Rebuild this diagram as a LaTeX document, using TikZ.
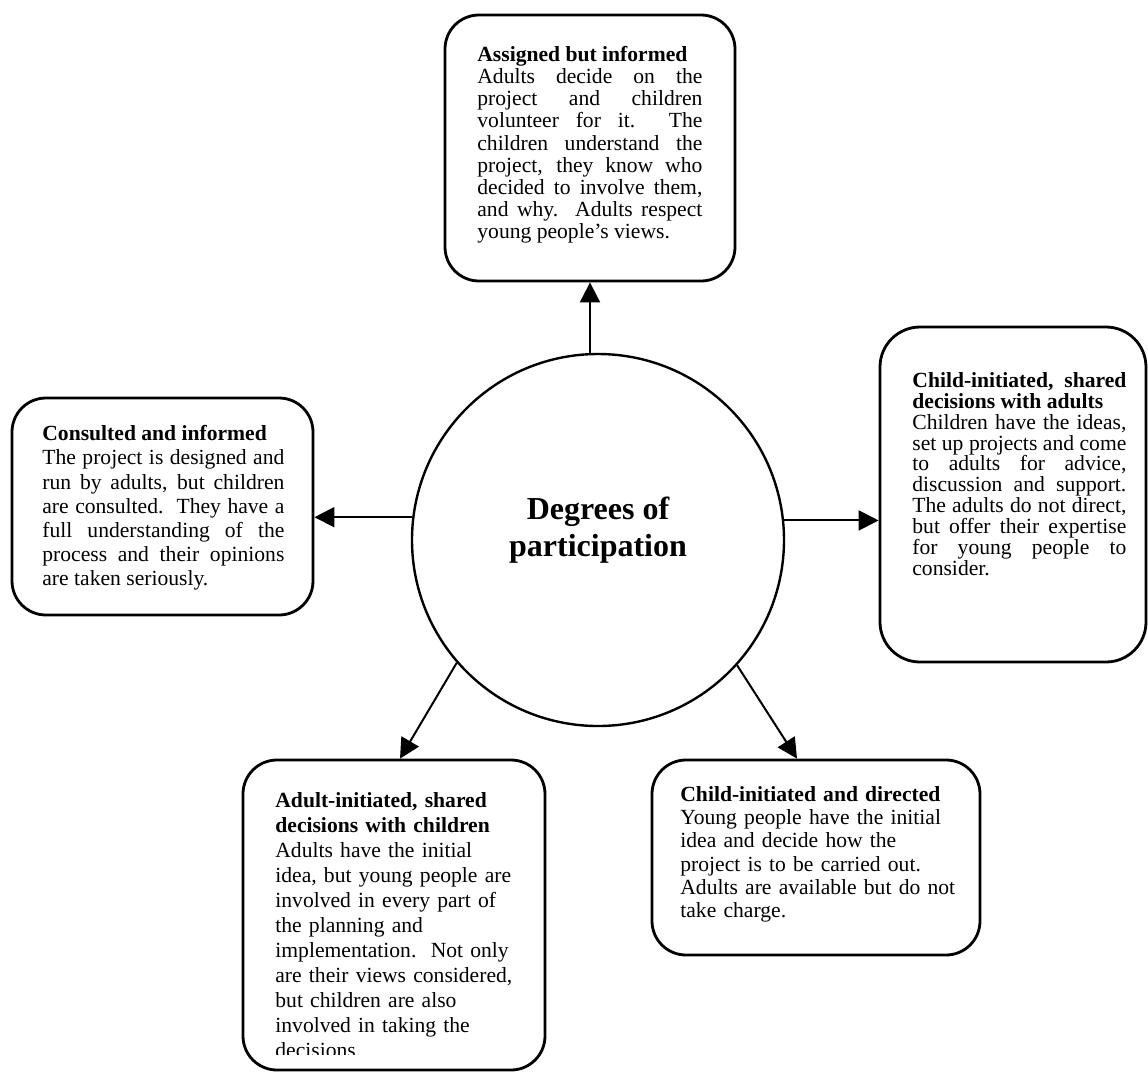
\documentclass[tikz,border=0pt]{standalone}
\usepackage{fontspec}
\setmainfont{Liberation Serif}
\usetikzlibrary{arrows.meta}
% paragraph settings for the box texts
\newcommand\boxpar{\hyphenpenalty=10000 \tolerance=9999 \parindent=0pt\relax}
\begin{document}
\begin{tikzpicture}[x=0.5pt,y=-0.5pt,
  box/.style={draw, line width=1.4pt, rounded corners=17pt, inner sep=0pt},
  hub/.style={draw, circle, line width=1.2pt, minimum size=186pt, inner sep=0pt},
  body/.style={anchor=north west, inner sep=0pt, font=\fontsize{10.8}{#1}\selectfont},
  title/.style={inner sep=0pt, align=center, font=\fontsize{16}{18.3}\selectfont\bfseries},
  arr/.style={line width=1pt, -{Triangle[length=10pt,width=10pt]}},
]
\useasboundingbox (0,0) rectangle (1148,1073);

% central hub
\node[hub] (c) at (598,540) {};
\node[title] (ttl) at (598,530) {Degrees of\\participation};

% surrounding boxes
\node[box, minimum width=145pt, minimum height=133pt] (top) at (590,148) {};
\node[box, minimum width=150.5pt, minimum height=108.5pt] (lft) at (162.5,506.5) {};
\node[box, rounded corners=20pt, minimum width=133pt, minimum height=167.5pt] (rgt) at (1013,494.5) {};
\node[box, minimum width=151pt, minimum height=155pt] (bl) at (394,915) {};
\node[box, minimum width=164pt, minimum height=97.5pt] (br) at (816,857.5) {};

% box texts
\node[body=11.05, text width=112.5pt, align=justify] (toptxt) at (477,46) {\boxpar
\textbf{Assigned but informed}\par
Adults decide on the\linebreak
project and children\linebreak
volunteer for it.\ \ The\linebreak
children understand the\linebreak
project, they know who\linebreak
decided to involve them,\linebreak
and why.\ \ Adults respect\linebreak
young people’s views.};

\node[body=12.1, text width=121pt, align=justify] (lfttxt) at (42,425) {\boxpar
\textbf{Consulted and informed}\par
The project is designed and\linebreak
run by adults, but children\linebreak
are consulted.\ \ They have a\linebreak
full understanding of the\linebreak
process and their opinions\linebreak
are taken seriously.};

\node[body=10.45, text width=107pt, align=justify] (rgttxt) at (912,372) {\boxpar
\textbf{Child-initiated, shared\linebreak
decisions with adults}\par
Children have the ideas,\linebreak
set up projects and come\linebreak
to adults for advice,\linebreak
discussion and support.\linebreak
The adults do not direct,\linebreak
but offer their expertise\linebreak
for young people to\linebreak
consider.};

\begin{scope}
  \clip (bl.north west) rectangle ([yshift=8.5pt]bl.south east);
  \node[body=12.5, text width=125pt, align=left] (bltxt) at (275,792) {\boxpar
  \textbf{Adult-initiated, shared}\newline
  \textbf{decisions with children}\newline
  Adults have the initial\newline
  idea, but young people are\newline
  involved in every part of\newline
  the planning and\newline
  implementation.\ \ Not only\newline
  are their views considered,\newline
  but children are also\newline
  involved in taking the\newline
  decisions.};
\end{scope}

\node[body=11.65, text width=140pt, align=left] (brtxt) at (680,786) {\boxpar
\textbf{Child-initiated and directed}\newline
Young people have the initial\newline
idea and decide how the\newline
project is to be carried out.\newline
Adults are available but do not\newline
take charge.};

% connectors
\draw[arr] (top.south |- c.north) -- (top.south);
\draw[arr] (c.173.8) -- (c.173.8 -| lft.east);
\draw[arr] (c.6.2) -- (c.6.2 -| rgt.west);
\draw[arr] (c.221) -- ([xshift=3pt]bl.north);
\draw[arr] (c.318.5) -- ([xshift=-9.5pt]br.north);
\end{tikzpicture}
\end{document}
